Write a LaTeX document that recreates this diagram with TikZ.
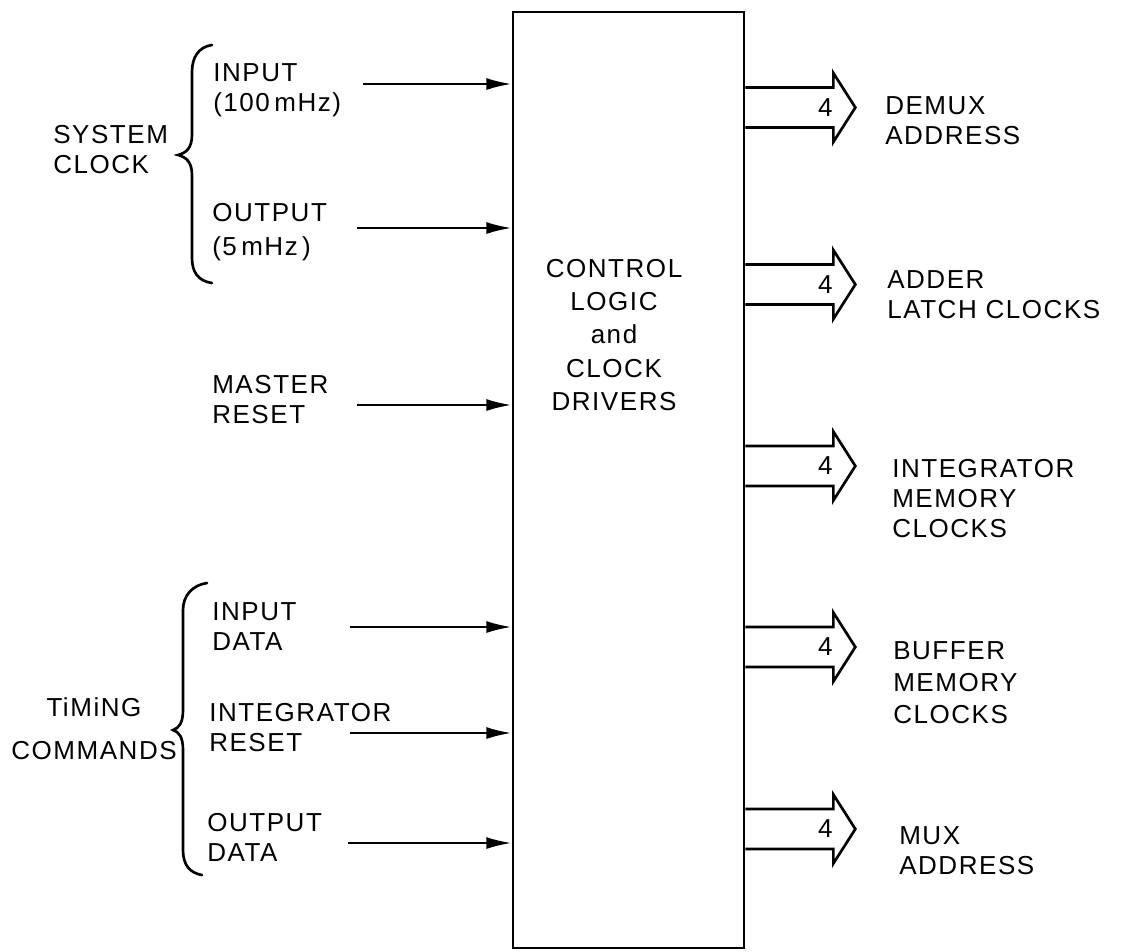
\documentclass[tikz,border=0pt]{standalone}
\usepackage{fontspec}
\setmainfont{Liberation Sans}[LetterSpace=6]
\usetikzlibrary{arrows.meta,calc}
\begin{document}
\begin{tikzpicture}[x=0.75pt,y=-0.75pt,
  lbl/.style={font=\fontsize{19.5}{22.5}\selectfont, align=left, inner sep=0pt},
  ctr/.style={font=\fontsize{19.5}{25}\selectfont, align=center, inner sep=0pt},
  blk/.style={draw, line width=2pt, inner sep=0pt},
  inarr/.style={line width=1.8pt, -{Latex[length=19pt,width=9pt]}},
  busline/.style={line width=2pt, line join=miter},
  brace/.style={line width=2pt, line cap=round}]
\useasboundingbox[fill=white] (0,0) rectangle (1121,951);

% main block
\node[blk, minimum width=173.25pt, minimum height=702pt] (box) at (628.5,480) {};
\node[ctr] (ctl) at (614,335) {CONTROL\\LOGIC\\and\\CLOCK\\DRIVERS};

% left group labels
\node[lbl, anchor=west] (sys) at (53,150) {SYSTEM\\CLOCK};
\node[ctr, font=\fontsize{19.5}{32}\selectfont] (tim) at (94,729) {TiMiNG\\COMMANDS};

% braces
\draw[brace] (212,45) .. controls (198,47) and (192,58) .. (192,72) -- (192,135)
  .. controls (192,148) and (186,153) .. (178,155)
  .. controls (186,157) and (192,162) .. (192,175) -- (192,258)
  .. controls (192,272) and (198,281) .. (212,283);
\draw[brace] (207,583) .. controls (193,585) and (183,595) .. (183,610) -- (183,710)
  .. controls (183,723) and (179,728) .. (173,730)
  .. controls (179,732) and (183,737) .. (183,750) -- (183,850)
  .. controls (183,865) and (190,873) .. (202,875);

% input labels
\node[lbl, anchor=west] (l1) at (213,90) {INPUT\\(100\,mHz)};
\node[lbl, anchor=west, font=\fontsize{19.5}{25}\selectfont] (l2) at (212,232) {OUTPUT\\(5\,mHz\,)};
\node[lbl, anchor=west] (l3) at (212,400) {MASTER\\RESET};
\node[lbl, anchor=west] (l4) at (212,627) {INPUT\\DATA};
\node[lbl, anchor=west] (l5) at (209,728) {INTEGRATOR\\RESET};
\node[lbl, anchor=west] (l6) at (207,837) {OUTPUT\\DATA};

% input arrows
\foreach \n/\x/\y in {i1/363/84, i2/357/228, i3/357/405, i4/350/627, i5/350/733, i6/348/843} {
  \coordinate (\n) at (\x,\y);
  \draw[inarr] (\n) -- (\n -| box.west);
}

% output buses
\foreach \n/\y in {b1/107.5, b2/284.5, b3/466, b4/647, b5/829} {
  \coordinate (y\n) at (0,\y);
  \coordinate (\n) at (box.east |- y\n);
  \draw[busline] (\n) ++(0,-20) -- ++(88,0) -- ++(0,-14.5) -- ++(22,34.5)
     -- ++(-22,34.5) -- ++(0,-14.5) -- ++(-88,0);
  \node[lbl] (n\n) at ($(\n)+(80,0)$) {4};
}

% output labels
\node[lbl, anchor=west] (r1) at (885,121) {DEMUX\\ADDRESS};
\node[lbl, anchor=west] (r2) at (887,295) {ADDER\\LATCH CLOCKS};
\node[lbl, anchor=west] (r3) at (892,499) {INTEGRATOR\\MEMORY\\CLOCKS};
\node[lbl, anchor=west, font=\fontsize{19.5}{24}\selectfont] (r4) at (893,683) {BUFFER\\MEMORY\\CLOCKS};
\node[lbl, anchor=west] (r5) at (899,851) {MUX\\ADDRESS};
\end{tikzpicture}
\end{document}
